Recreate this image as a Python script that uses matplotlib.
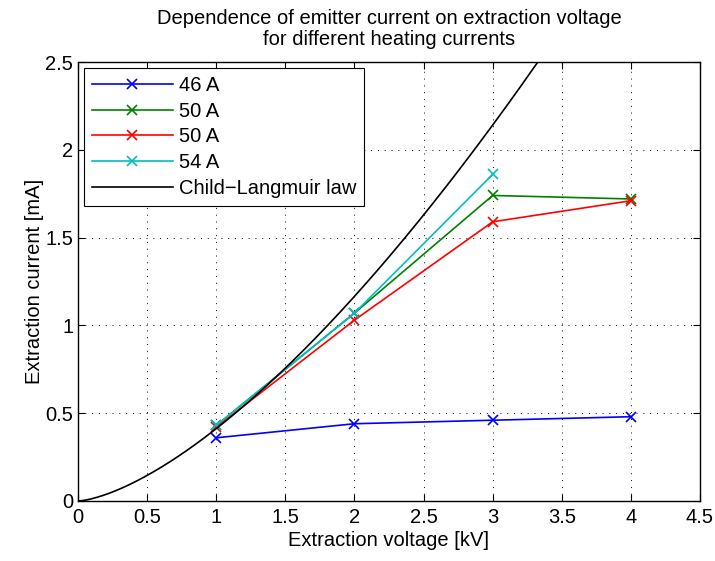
import numpy as np
import matplotlib
matplotlib.use("Agg")
import matplotlib.pyplot as plt

plt.rcParams['font.family'] = ['Liberation Sans', 'DejaVu Sans']

voltage = [1, 2, 3, 4]
i_46 = [0.36, 0.44, 0.46, 0.48]
i_50a = [0.43, 1.07, 1.74, 1.72]
i_50b = [0.42, 1.03, 1.59, 1.71]
i_54 = [0.43, 1.07, 1.86]
labels = ['46 A', '50 A', '50 A', '54 A', 'Child\u2212Langmuir law']

# Child-Langmuir law: I = P * U^(3/2)
perveance = 0.412
u_cl = np.linspace(0, 4.5, 300)
i_cl = perveance * u_cl ** 1.5

fs = 14.5

fig = plt.figure(figsize=(7.15, 5.61), dpi=100)
ax = fig.add_axes([78 / 715, 60 / 561, 622 / 715, 439 / 561])

ax.plot(voltage, i_46, '-x', color='#0000ff', lw=1.2, ms=7, mew=1.2, label=labels[0])
ax.plot(voltage, i_50a, '-x', color='#008000', lw=1.2, ms=7, mew=1.2, label=labels[1])
ax.plot(voltage, i_50b, '-x', color='#ff0000', lw=1.2, ms=7, mew=1.2, label=labels[2])
ax.plot(voltage[:3], i_54, '-x', color='#00bfbf', lw=1.2, ms=7, mew=1.2, label=labels[3])
ax.plot(u_cl, i_cl, '-', color='black', lw=1.2, label=labels[4])

ax.set_xlim(0, 4.5)
ax.set_ylim(0, 2.5)
ax.set_xticks(np.arange(0, 4.51, 0.5))
ax.set_xticklabels(['0', '0.5', '1', '1.5', '2', '2.5', '3', '3.5', '4', '4.5'])
ax.set_yticks(np.arange(0, 2.51, 0.5))
ax.set_yticklabels(['0', '0.5', '1', '1.5', '2', '2.5'])
ax.tick_params(direction='in', top=True, right=True, labelsize=fs, length=5)
ax.tick_params(axis='x', pad=5)
ax.tick_params(axis='y', pad=3.5)
ax.grid(True, linestyle=(0, (1, 6)), color='black', lw=0.7)
for s in ax.spines.values():
    s.set_linewidth(1.0)

ax.set_xlabel('Extraction voltage [kV]', fontsize=fs, labelpad=3)
ax.set_ylabel('Extraction current [mA]', fontsize=fs, labelpad=1)
ax.set_title('Dependence of emitter current on extraction voltage\nfor different heating currents',
             fontsize=fs, pad=12, linespacing=1.15)

leg = ax.legend(loc='upper left', fontsize=fs, fancybox=False, edgecolor='black',
                framealpha=1, borderaxespad=0.3, handlelength=4.0, handletextpad=0.3,
                labelspacing=0.33, borderpad=0.4)
leg.get_frame().set_linewidth(0.8)

fig.savefig('out.png', dpi=100)
